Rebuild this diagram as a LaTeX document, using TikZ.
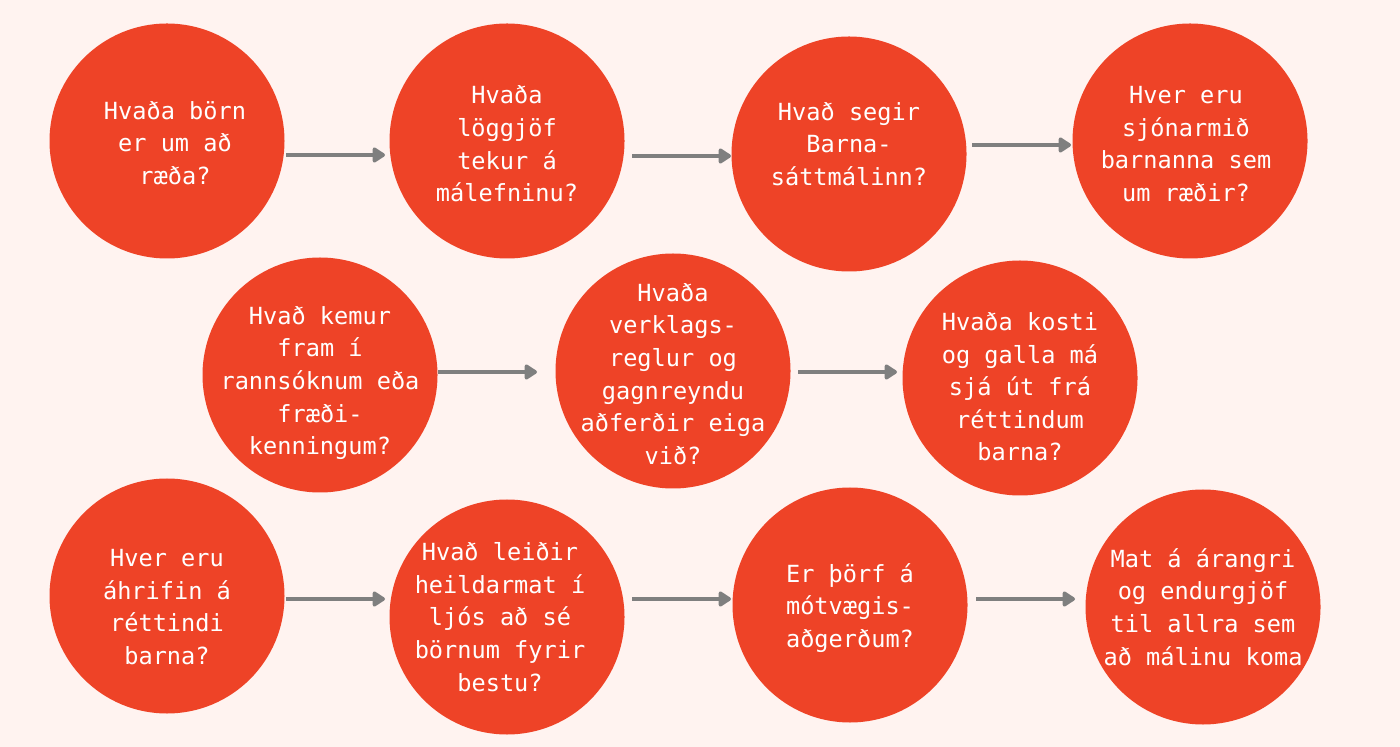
\documentclass[tikz,border=0pt]{standalone}
\usepackage{fontspec}
\newfontfamily\qfont{DejaVu Sans Mono}
\usetikzlibrary{arrows.meta}
\definecolor{bgc}{HTML}{FFF3F0}
\definecolor{circc}{HTML}{EE4327}
\definecolor{arrc}{HTML}{7F7F7F}
\tikzset{
  bubble/.style={circle,fill=circc,draw=none,minimum size=117.5pt,inner sep=0pt},
  qtext/.style={text=white,align=center,font=\qfont\fontsize{11.8}{16.3}\selectfont,inner sep=0pt},
  arr/.style={draw=arrc,line width=2pt,-{Triangle[length=7pt,width=8.5pt,round]}}
}
\begin{document}
\begin{tikzpicture}[x=0.5pt,y=-0.5pt]
\fill[bgc] (0,0) rectangle (1400,747);
\useasboundingbox (0,0) rectangle (1400,747);
% circles
\node[bubble] (c1) at (167,141) {};
\node[bubble] (c2) at (507,141) {};
\node[bubble] (c3) at (849,154) {};
\node[bubble] (c4) at (1190,141) {};
\node[bubble] (c5) at (320,375) {};
\node[bubble] (c6) at (673,371) {};
\node[bubble] (c7) at (1020,378) {};
\node[bubble] (c8) at (167,596) {};
\node[bubble] (c9) at (507,617) {};
\node[bubble] (c10) at (850,605) {};
\node[bubble] (c11) at (1203,607) {};
% texts
\node[qtext] (t1) at (175,143) {Hvaða börn\\er um að\\ræða?};
\node[qtext] (t2) at (507,144) {Hvaða\\löggjöf\\tekur á\\málefninu?};
\node[qtext] (t3) at (849,144) {Hvað segir\\Barna-\\sáttmálinn?};
\node[qtext] (t4) at (1186,144) {Hver eru\\sjónarmið\\barnanna sem\\um ræðir?};
\node[qtext] (t5) at (320,383) {Hvað kemur\\fram í\\rannsóknum eða\\fræði-\\kenningum?};
\node[qtext] (t6) at (673,374) {Hvaða\\verklags-\\reglur og\\gagnreyndu\\aðferðir eiga\\við?};
\node[qtext] (t7) at (1020,387) {Hvaða kosti\\og galla má\\sjá út frá\\réttindum\\barna?};
\node[qtext] (t8) at (167,607) {Hver eru\\áhrifin á\\réttindi\\barna?};
\node[qtext] (t9) at (500,617) {Hvað leiðir\\heildarmat í\\ljós að sé\\börnum fyrir\\bestu?};
\node[qtext] (t10) at (850,608) {Er þörf á\\mótvægis-\\aðgerðum?};
\node[qtext] (t11) at (1203,607) {Mat á árangri\\og endurgjöf\\til allra sem\\að málinu koma};
% arrow end points
\coordinate (a1s) at (286,155); \coordinate (a1e) at (385,155);
\coordinate (a2s) at (632,156); \coordinate (a2e) at (731,156);
\coordinate (a3s) at (972,145); \coordinate (a3e) at (1071,145);
\coordinate (a4s) at (438,372); \coordinate (a4e) at (537,372);
\coordinate (a5s) at (798,372); \coordinate (a5e) at (897,372);
\coordinate (a6s) at (286,599); \coordinate (a6e) at (385,599);
\coordinate (a7s) at (632,599); \coordinate (a7e) at (731,599);
\coordinate (a8s) at (976,599); \coordinate (a8e) at (1075,599);
\draw[arr] (a1s) -- (a1e);
\draw[arr] (a2s) -- (a2e);
\draw[arr] (a3s) -- (a3e);
\draw[arr] (a4s) -- (a4e);
\draw[arr] (a5s) -- (a5e);
\draw[arr] (a6s) -- (a6e);
\draw[arr] (a7s) -- (a7e);
\draw[arr] (a8s) -- (a8e);
\end{tikzpicture}
\end{document}
